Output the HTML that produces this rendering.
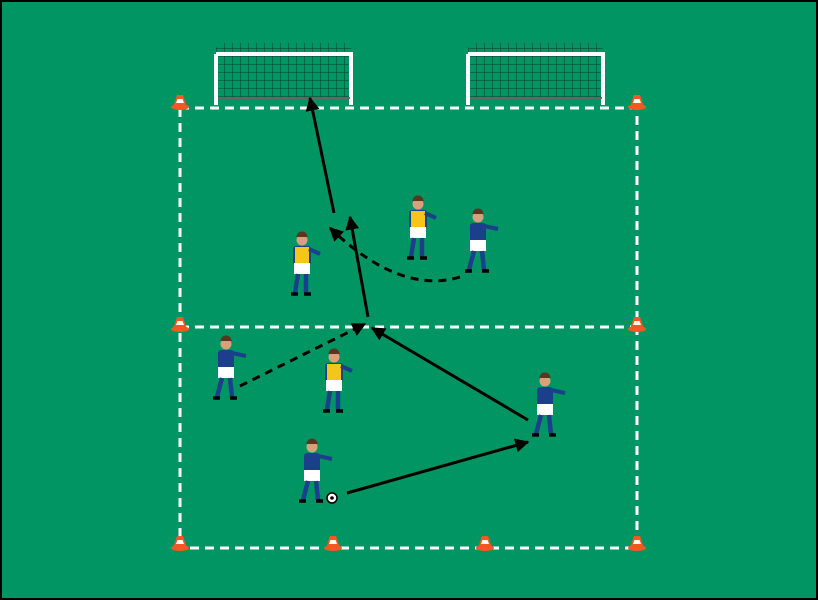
<!DOCTYPE html>
<html><head><style>body{margin:0;background:#000}svg{display:block}</style></head><body>
<svg width="818" height="600" viewBox="0 0 818 600" xmlns="http://www.w3.org/2000/svg">
<defs>
<pattern id="net" width="8" height="8" patternUnits="userSpaceOnUse"><path d="M0 0H8M0 0V8" stroke="#0a3d2a" stroke-width="1" fill="none"/></pattern>
<marker id="a" viewBox="0 0 10 10" refX="9" refY="5" markerWidth="16" markerHeight="14" orient="auto" markerUnits="userSpaceOnUse"><path d="M0 0L10 5L0 10Z" fill="#000"/></marker>
<g id="cone"><path d="M-3 -10L3 -10L7 2L-7 2Z" fill="#f05a22"/><path d="M-2.5 -6L2.5 -6L4 -2L-4 -2Z" fill="#fff"/><ellipse cx="0" cy="2" rx="9" ry="3" fill="#f05a22"/></g>
<g id="blue"><circle cx="0" cy="-26" r="5.5" fill="#d9a07a"/><path d="M-5.5 -29a5.5 5.5 0 0 1 11 0z" fill="#5a3520"/><rect x="-8" y="-20" width="16" height="19" rx="3" fill="#1c3f8c"/><path d="M6 -17L20 -14" stroke="#1c3f8c" stroke-width="4"/><rect x="-8" y="-3" width="16" height="11" fill="#fff"/><path d="M-4 8L-9 27M4 8L6 27" stroke="#1c3f8c" stroke-width="4.5"/><path d="M-13 28h7M4 28h7" stroke="#000" stroke-width="3.5"/></g>
<g id="yel"><circle cx="0" cy="-26" r="5.5" fill="#d9a07a"/><path d="M-5.5 -29a5.5 5.5 0 0 1 11 0z" fill="#5a3520"/><rect x="-9" y="-20" width="18" height="19" rx="3" fill="#1c3f8c"/><rect x="-7" y="-19" width="14" height="17" fill="#f5c518"/><path d="M7 -17L18 -12" stroke="#1c3f8c" stroke-width="4"/><rect x="-8" y="-3" width="16" height="11" fill="#fff"/><path d="M-4 8L-7 27M4 8L4 27" stroke="#1c3f8c" stroke-width="4.5"/><path d="M-11 28h7M2 28h7" stroke="#000" stroke-width="3.5"/></g>
</defs>
<rect x="1" y="1" width="816" height="598" fill="#009563" stroke="#000" stroke-width="2"/>
<g>
<path d="M218 43H350L352 53H214Z" fill="url(#net)"/>
<rect x="218" y="55" width="132" height="43" fill="url(#net)"/>
<path d="M216 54H351V105M216 54V105" stroke="#fff" stroke-width="4" fill="none"/>
<path d="M218 98H350" stroke="#666" stroke-width="2"/>
</g>
<g transform="translate(252 0)">
<path d="M218 43H350L352 53H214Z" fill="url(#net)"/>
<rect x="218" y="55" width="132" height="43" fill="url(#net)"/>
<path d="M216 54H351V105M216 54V105" stroke="#fff" stroke-width="4" fill="none"/>
<path d="M218 98H350" stroke="#666" stroke-width="2"/>
</g>
<g stroke="#fff" stroke-width="3" stroke-dasharray="9 6" fill="none">
<rect x="180" y="108" width="457" height="440"/>
<path d="M180 327H637"/>
</g>
<use href="#cone" x="180" y="105"/><use href="#cone" x="637" y="105"/>
<use href="#cone" x="180" y="327"/><use href="#cone" x="637" y="327"/>
<use href="#cone" x="180" y="546"/><use href="#cone" x="333" y="546"/>
<use href="#cone" x="485" y="546"/><use href="#cone" x="637" y="546"/>
<g stroke="#000" stroke-width="3" fill="none">
<path d="M334 213L310 98" marker-end="url(#a)"/>
<path d="M368 317L350 217" marker-end="url(#a)"/>
<path d="M528 420L372 328" marker-end="url(#a)"/>
<path d="M347 493L528 442" marker-end="url(#a)"/>
<path d="M460 277Q400 295 330 228" stroke-dasharray="8 6" marker-end="url(#a)"/>
<path d="M240 386L365 324" stroke-dasharray="8 6" marker-end="url(#a)"/>
</g>
<use href="#yel" x="302" y="266"/>
<use href="#yel" x="418" y="230"/>
<use href="#blue" x="478" y="243"/>
<use href="#blue" x="226" y="370"/>
<use href="#yel" x="334" y="383"/>
<use href="#blue" x="312" y="473"/>
<use href="#blue" x="545" y="407"/>
<circle cx="332" cy="498" r="5" fill="#fff" stroke="#000" stroke-width="1.5"/>
<circle cx="332" cy="498" r="1.8" fill="#000"/>
</svg>
</body></html>
